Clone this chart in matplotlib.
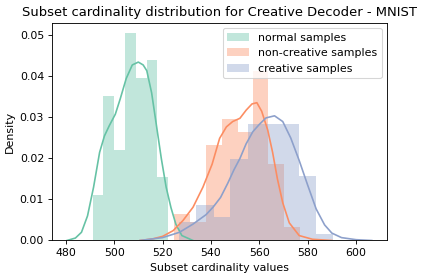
import numpy as np
import matplotlib
matplotlib.use("Agg")
import matplotlib.pyplot as plt

# histogram bins (edges) and densities
normal_edges = [491.1, 495.6, 500.1, 504.5, 509.0, 513.5, 517.9, 522.4]
normal_density = [0.0111, 0.0352, 0.0220, 0.0506, 0.0397, 0.0440, 0.0155]

noncreative_edges = [524.7, 531.3, 537.9, 544.4, 551.0, 557.3, 563.8, 570.4, 576.8]
noncreative_density = [0.0065, 0.0045, 0.0232, 0.0296, 0.0265, 0.0413, 0.0186, 0.0033]

creative_edges = [527.0, 534.0, 541.1, 548.1, 555.2, 562.3, 569.3, 576.4, 583.5, 590.5]
creative_density = [0.0045, 0.0086, 0.0058, 0.0198, 0.0284, 0.0284, 0.0284, 0.0157, 0.0016]

# kde curves
normal_kde_x = [480.5, 484, 486.5, 489, 491.5, 494, 496, 498, 500.5, 502.5, 505, 507.5,
                510, 512, 513.5, 515.5, 517.5, 519.5, 521.5, 523.5, 525.5, 528, 532.6]
normal_kde_y = [0, 0.0006, 0.0020, 0.0060, 0.0130, 0.0215, 0.0255, 0.0280, 0.0308, 0.0345,
                0.0395, 0.0428, 0.0435, 0.0428, 0.0414, 0.0360, 0.0280, 0.0200, 0.0130,
                0.0080, 0.0040, 0.0012, 0]

noncreative_kde_x = [510.7, 516, 520, 524.4, 528.5, 532.6, 536.7, 540.5, 543.6, 546.4, 549,
                     552, 554.6, 557, 559, 561, 563.5, 565.5, 567.5, 569.7, 572.4, 576.5,
                     582, 590]
noncreative_kde_y = [0, 0.0004, 0.0010, 0.0024, 0.0049, 0.0081, 0.0130, 0.0186, 0.0249,
                     0.0277, 0.0290, 0.0298, 0.0318, 0.0333, 0.0336, 0.0315, 0.0269, 0.0215,
                     0.0150, 0.0092, 0.0043, 0.0012, 0.0003, 0]

creative_kde_x = [510.7, 520, 527, 532.6, 538, 541, 544, 547, 549.5, 552, 554.5, 557.3, 560,
                  562.8, 566.3, 569.7, 573, 576.5, 580, 583.5, 587, 590, 594, 600, 606.5]
creative_kde_y = [0, 0.0007, 0.0020, 0.0040, 0.0063, 0.0082, 0.0105, 0.0140, 0.0172, 0.0200,
                  0.0235, 0.0265, 0.0283, 0.0299, 0.0304, 0.0290, 0.0250, 0.0195, 0.0135,
                  0.0077, 0.0038, 0.0018, 0.0007, 0.0002, 0]

labels = ["normal samples", "non-creative samples", "creative samples"]
colors = ["#66c2a5", "#fc8d62", "#8da0cb"]

dpi = 79
fig = plt.figure(figsize=(426 / dpi, 278 / dpi), dpi=dpi)
ax = fig.add_axes([0.1214, 0.1349, 0.7871, 0.7834])

series = [
    (normal_edges, normal_density, normal_kde_x, normal_kde_y),
    (noncreative_edges, noncreative_density, noncreative_kde_x, noncreative_kde_y),
    (creative_edges, creative_density, creative_kde_x, creative_kde_y),
]

for (edges, dens, kx, ky), lab, col in zip(series, labels, colors):
    edges = np.array(edges)
    ax.bar(edges[:-1], dens, width=np.diff(edges), align="edge", color=col,
           alpha=0.4, linewidth=0, label=lab)
    ax.plot(kx, ky, color=col, lw=1.5)

ax.set_xlim(474.2, 612.8)
ax.set_ylim(0, 0.0531)
ax.set_xticks([480, 500, 520, 540, 560, 580, 600])
ax.set_yticks([0, 0.01, 0.02, 0.03, 0.04, 0.05])
ax.set_yticklabels(["0.00", "0.01", "0.02", "0.03", "0.04", "0.05"])

ax.set_title("Subset cardinality distribution for Creative Decoder - MNIST")
ax.set_xlabel("Subset cardinality values")
ax.set_ylabel("Density")
ax.legend(loc="upper right")

fig.savefig("out.png", dpi=dpi)
